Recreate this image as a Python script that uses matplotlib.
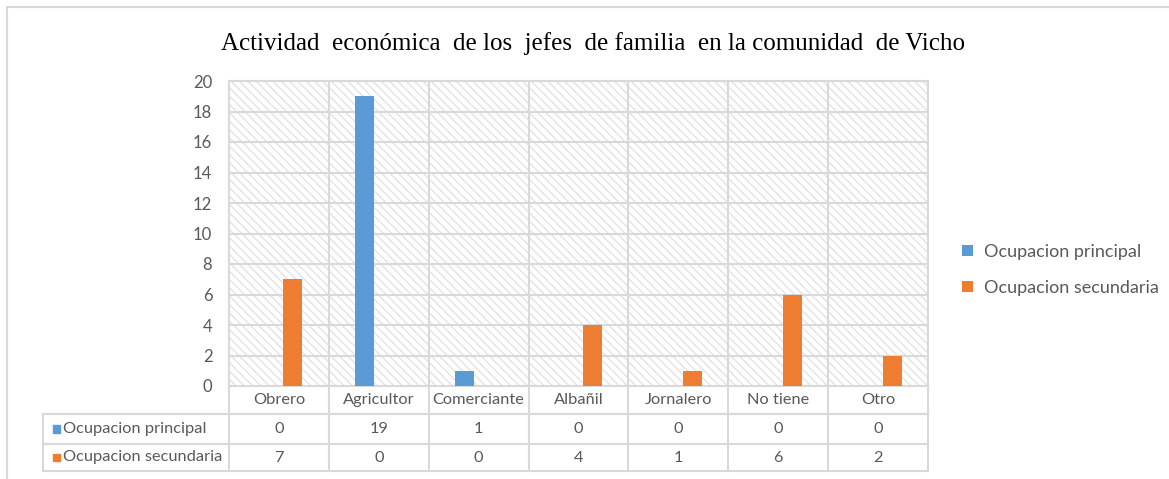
import numpy as np
import matplotlib
matplotlib.use("Agg")
import matplotlib.pyplot as plt
from matplotlib.patches import Rectangle
from matplotlib.lines import Line2D
import matplotlib.transforms as mtransforms

# ===== 数据 =====
categories = ["Obrero", "Agricultor", "Comerciante", "Albañil", "Jornalero", "No tiene", "Otro"]
principal = [0, 19, 1, 0, 0, 0, 0]
secundaria = [7, 0, 0, 4, 1, 6, 2]
series_names = ["Ocupacion principal", "Ocupacion secundaria"]
title = "Actividad  económica  de los  jefes  de familia  en la comunidad  de Vicho"

BLUE = "#5B9BD5"
ORANGE = "#ED7D31"
GRID = "#D9D9D9"
TXT = "#595959"
W, H = 1169, 479

plt.rcParams["font.family"] = ["Lato", "DejaVu Sans"]

fig = plt.figure(figsize=(W / 100, H / 100), dpi=100)
# 外框
fig.add_artist(Rectangle((7 / W, -0.1), 1.2, (H - 7) / H + 0.1, transform=fig.transFigure,
                         fill=False, edgecolor=GRID, linewidth=1.5))

ax = fig.add_axes([229 / W, (H - 386) / H, (928 - 229) / W, (386 - 81) / H])
x = np.arange(len(categories))
bw = 0.19
off = 0.14

# 斜线底纹背景
ax.add_patch(Rectangle((0, 0), 1, 1, transform=ax.transAxes, facecolor="white",
                       edgecolor="#E3E3E3", hatch="\\\\\\\\", linewidth=0, zorder=0))
ax.bar(x - off, principal, bw, color=BLUE, zorder=3, label=series_names[0])
ax.bar(x + off, secundaria, bw, color=ORANGE, zorder=3, label=series_names[1])

ax.set_xlim(-0.5, len(categories) - 0.5)
ax.set_ylim(0, 20)
ax.set_yticks(range(0, 21, 2))
ax.set_xticks(np.arange(-0.5, len(categories), 1))
ax.set_xticklabels([])
ax.grid(True, color=GRID, linewidth=1.5, zorder=1)
ax.set_axisbelow(True)
ax.tick_params(length=0, labelsize=12, labelcolor=TXT, pad=12)
for s in ax.spines.values():
    s.set_color(GRID)
    s.set_linewidth(1.5)

# ===== 数据表 =====
trans = mtransforms.blended_transform_factory(ax.transData, ax.transAxes)
ph = 305.0
rows_y = [0, -28 / ph, -58 / ph, -85 / ph]
left = -0.5 - 186 / 100.0
right = len(categories) - 0.5
lk = dict(color=GRID, linewidth=1.5, transform=trans, clip_on=False)
# 横线
ax.add_line(Line2D([-0.5, right], [rows_y[1]] * 2, **lk))
ax.add_line(Line2D([left, right], [rows_y[1]] * 2, **lk))
ax.add_line(Line2D([left, right], [rows_y[2]] * 2, **lk))
ax.add_line(Line2D([left, right], [rows_y[3]] * 2, **lk))
# 竖线
for xv in np.arange(-0.5, len(categories), 1):
    ax.add_line(Line2D([xv, xv], [0, rows_y[3]], **lk))
ax.add_line(Line2D([left, left], [rows_y[1], rows_y[3]], **lk))

fs = 11.8
for i, c in enumerate(categories):
    ax.text(i, (rows_y[0] + rows_y[1]) / 2, c, transform=trans, ha="center", va="center",
            fontsize=fs, color=TXT)
    ax.text(i, (rows_y[1] + rows_y[2]) / 2, str(principal[i]), transform=trans, ha="center",
            va="center", fontsize=fs, color=TXT)
    ax.text(i, (rows_y[2] + rows_y[3]) / 2, str(secundaria[i]), transform=trans, ha="center",
            va="center", fontsize=fs, color=TXT)

for r, (name, col) in enumerate(zip(series_names, [BLUE, ORANGE])):
    yc = (rows_y[r + 1] + rows_y[r + 2]) / 2
    ax.add_patch(Rectangle((left + 0.1, yc - 0.012), 0.065, 0.024, transform=trans,
                           color=col, clip_on=False))
    ax.text(left + 0.2, yc, name, transform=trans, ha="left", va="center",
            fontsize=fs, color=TXT)

# ===== 图例 =====
ax.legend(loc="center left", bbox_to_anchor=(946 / W, 1 - 270 / H),
          bbox_transform=fig.transFigure, frameon=False, fontsize=13,
          labelcolor=TXT, handlelength=0.6, handleheight=0.6, handletextpad=0.6,
          labelspacing=1.1)

fig.text(593 / W, 1 - 44 / H, title, ha="center", va="center", fontsize=18,
         family="Liberation Serif", color="black")

fig.savefig("out.png", dpi=100)
